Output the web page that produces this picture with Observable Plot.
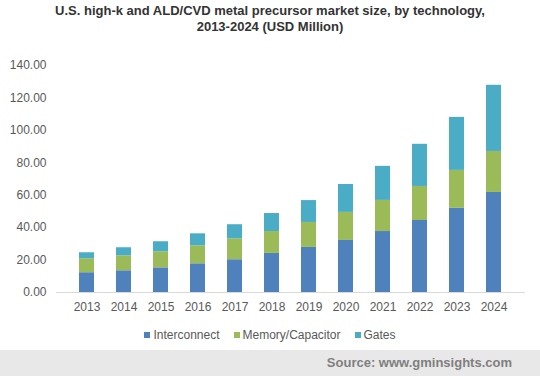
<!DOCTYPE html>
<html>
<head>
<meta charset="utf-8">
<script src="https://cdn.jsdelivr.net/npm/d3@7"></script>
<script src="https://cdn.jsdelivr.net/npm/@observablehq/plot@0.6"></script>
<style>
  html, body { margin: 0; padding: 0; background: #fff; width: 540px; height: 376px; overflow: hidden; }
  body { font-family: "Liberation Sans", Arial, sans-serif; }
  #title { height: 36px; box-sizing: border-box; padding-top: 3px; text-align: center; font-weight: bold; font-size: 13px; line-height: 16px; color: #333; }
  #legend { height: 30px; display: flex; justify-content: center; align-items: center; font-size: 12px; color: #595959; gap: 14px; }
  #legend .item { display: flex; align-items: center; }
  #legend .sw { width: 6px; height: 6px; margin-right: 3px; display: inline-block; }
  #footer { height: 26px; background: #e8e8e8; text-align: right; padding-right: 28px; box-sizing: border-box; font-weight: bold; font-size: 13px; line-height: 26px; color: #7f7f7f; }
</style>
</head>
<body>
<div id="title">U.S. high-k and ALD/CVD metal precursor market size, by technology,<br>2013-2024 (USD Million)</div>
<div id="chart"></div>
<div id="legend"></div>
<div id="footer">Source: www.gminsights.com</div>
<script>
const years = ["2013","2014","2015","2016","2017","2018","2019","2020","2021","2022","2023","2024"];
const seriesNames = ["Interconnect", "Memory/Capacitor", "Gates"];
const interconnect = [12.2, 13.4, 15.2, 17.7, 20.2, 24.1, 27.8, 32.1, 37.6, 44.4, 51.9, 61.7];
const memory = [8.6, 9.2, 9.9, 11.1, 12.9, 13.5, 15.4, 17.3, 19.2, 21.0, 23.4, 25.3];
const gates = [3.7, 5.0, 6.2, 7.4, 8.7, 11.1, 13.5, 17.2, 21.0, 26.0, 32.7, 40.8];
const yTicks = [0, 20, 40, 60, 80, 100, 120, 140];
const colors = ["#4f81bd", "#9bbb59", "#4bacc6"];

const seriesValues = [interconnect, memory, gates];
const data = [];
seriesNames.forEach((s, si) => {
  years.forEach((y, i) => data.push({year: y, series: s, value: seriesValues[si][i]}));
});

const chart = Plot.plot({
  width: 540,
  height: 284,
  marginLeft: 56,
  marginRight: 15,
  marginTop: 29,
  marginBottom: 28,
  style: { fontFamily: "Liberation Sans, Arial, sans-serif", fontSize: "12px", color: "#595959", background: "#fff" },
  x: { domain: years, padding: 0.59, label: null },
  y: { domain: [0, 140], label: null },
  color: { domain: seriesNames, range: colors },
  marks: [
    Plot.axisY({ ticks: yTicks, tickSize: 0, tickPadding: 10, tickFormat: d3.format(".2f"), label: null, fill: "#595959" }),
    Plot.axisX({ tickSize: 0, tickPadding: 10, label: null, fill: "#595959" }),
    Plot.barY(data, Plot.stackY({ order: seriesNames }, { x: "year", y: "value", fill: "series" })),
    Plot.ruleY([0], { stroke: "#d9d9d9", strokeWidth: 1 })
  ]
});
document.getElementById("chart").appendChild(chart);

const legend = document.getElementById("legend");
seriesNames.forEach((s, i) => {
  const item = document.createElement("span");
  item.className = "item";
  const sw = document.createElement("span");
  sw.className = "sw";
  sw.style.background = colors[i];
  item.appendChild(sw);
  item.appendChild(document.createTextNode(s));
  legend.appendChild(item);
});
</script>
</body>
</html>
